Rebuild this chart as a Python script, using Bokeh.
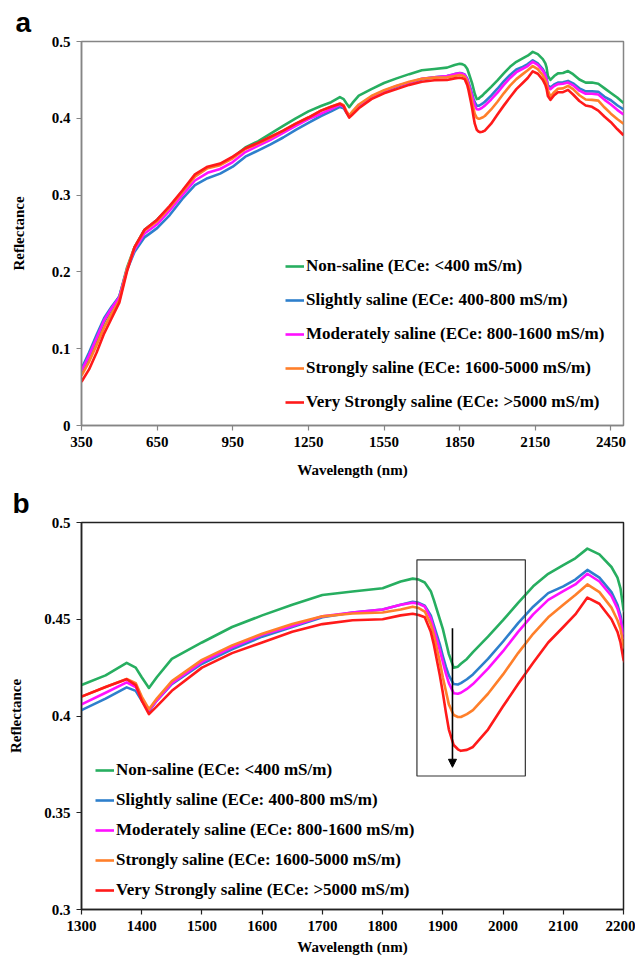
from bokeh.plotting import figure
from bokeh.layouts import column
from bokeh.models import (Legend, LegendItem, FixedTicker, BoxAnnotation, Arrow,
                          NormalHead, Range1d, Title)
from bokeh.embed import file_html
from bokeh.resources import INLINE

# ---------------- data ----------------
wavelength = [350, 380, 410, 440, 470, 500, 530, 560, 600, 650, 700, 750, 800, 850, 900,
              950, 1000, 1050, 1100, 1150, 1200, 1250, 1300, 1340, 1375, 1390, 1400, 1412,
              1425, 1450, 1500, 1550, 1600, 1650, 1700, 1750, 1800, 1830, 1850, 1860, 1870,
              1880, 1885, 1895, 1900, 1905, 1910, 1918, 1925, 1930, 1940, 1950, 1975, 2000,
              2025, 2050, 2075, 2100, 2120, 2140, 2160, 2180, 2190, 2195, 2200, 2210, 2225,
              2240, 2260, 2280, 2300, 2325, 2350, 2375, 2400, 2425, 2450, 2475, 2500]

non_saline = [0.068, 0.085, 0.110, 0.135, 0.152, 0.168, 0.205, 0.232, 0.255, 0.268, 0.285,
              0.305, 0.325, 0.336, 0.340, 0.349, 0.362, 0.370, 0.380, 0.390, 0.400, 0.409,
              0.416, 0.421, 0.4275, 0.425, 0.420, 0.4145, 0.420, 0.4295, 0.438, 0.446, 0.452,
              0.4575, 0.4625, 0.4643, 0.466, 0.4695, 0.471, 0.4705, 0.469, 0.4645, 0.460,
              0.450, 0.445, 0.4385, 0.432, 0.425, 0.4255, 0.427, 0.4295, 0.433, 0.441,
              0.4495, 0.4585, 0.467, 0.4735, 0.478, 0.4815, 0.4865, 0.4835, 0.477, 0.4715,
              0.466, 0.455, 0.450, 0.455, 0.4585, 0.459, 0.4615, 0.4575, 0.4505, 0.4465,
              0.4465, 0.445, 0.439, 0.433, 0.427, 0.420]

slightly = [0.074, 0.095, 0.118, 0.140, 0.155, 0.168, 0.202, 0.226, 0.245, 0.257, 0.274,
            0.295, 0.313, 0.322, 0.328, 0.337, 0.350, 0.358, 0.366, 0.375, 0.385, 0.394,
            0.403, 0.409, 0.4148, 0.413, 0.408, 0.4025, 0.408, 0.4165, 0.427, 0.4345, 0.441,
            0.446, 0.451, 0.4535, 0.455, 0.4575, 0.459, 0.4585, 0.457, 0.452, 0.447, 0.437,
            0.431, 0.4255, 0.421, 0.4165, 0.4163, 0.417, 0.419, 0.4215, 0.4295, 0.4385,
            0.448, 0.4565, 0.4635, 0.467, 0.4705, 0.4755, 0.4715, 0.464, 0.4575, 0.452,
            0.443, 0.440, 0.444, 0.4465, 0.447, 0.4487, 0.4455, 0.439, 0.435, 0.435, 0.4345,
            0.428, 0.4235, 0.417, 0.4115]

moderately = [0.071, 0.091, 0.114, 0.137, 0.153, 0.167, 0.203, 0.229, 0.250, 0.262, 0.280,
              0.300, 0.319, 0.329, 0.334, 0.343, 0.356, 0.364, 0.372, 0.381, 0.390, 0.399,
              0.406, 0.412, 0.4174, 0.415, 0.409, 0.4030, 0.408, 0.417, 0.428, 0.4355, 0.442,
              0.4465, 0.4515, 0.4535, 0.455, 0.4575, 0.4585, 0.458, 0.4565, 0.4505, 0.445,
              0.434, 0.428, 0.422, 0.417, 0.4118, 0.4115, 0.412, 0.414, 0.4165, 0.4245,
              0.4335, 0.4435, 0.4525, 0.460, 0.4645, 0.468, 0.4735, 0.4695, 0.462, 0.4555,
              0.450, 0.4405, 0.438, 0.442, 0.4445, 0.445, 0.4465, 0.443, 0.436, 0.432, 0.432,
              0.431, 0.424, 0.418, 0.411, 0.405]

strongly = [0.065, 0.083, 0.105, 0.128, 0.146, 0.163, 0.203, 0.232, 0.254, 0.266, 0.284,
            0.304, 0.324, 0.335, 0.339, 0.348, 0.360, 0.367, 0.375, 0.384, 0.393, 0.401,
            0.410, 0.415, 0.4192, 0.417, 0.410, 0.4035, 0.409, 0.418, 0.429, 0.4365, 0.4425,
            0.4475, 0.4515, 0.453, 0.4535, 0.455, 0.4565, 0.4558, 0.454, 0.4475, 0.442,
            0.428, 0.420, 0.413, 0.406, 0.4005, 0.3995, 0.3995, 0.401, 0.403, 0.4115,
            0.4215, 0.4325, 0.4425, 0.451, 0.4575, 0.4625, 0.468, 0.464, 0.456, 0.4495,
            0.445, 0.4365, 0.428, 0.434, 0.4385, 0.439, 0.4423, 0.438, 0.430, 0.4245, 0.424,
            0.423, 0.414, 0.406, 0.399, 0.393]

very_strongly = [0.057, 0.073, 0.095, 0.120, 0.140, 0.160, 0.200, 0.232, 0.255, 0.268, 0.286,
                 0.306, 0.327, 0.337, 0.341, 0.350, 0.361, 0.368, 0.376, 0.384, 0.393, 0.401,
                 0.410, 0.415, 0.419, 0.416, 0.408, 0.401, 0.405, 0.413, 0.425, 0.4325, 0.438,
                 0.4435, 0.4475, 0.4495, 0.450, 0.452, 0.4528, 0.4522, 0.451, 0.4435, 0.437,
                 0.421, 0.412, 0.402, 0.393, 0.385, 0.3828, 0.382, 0.3825, 0.384, 0.393,
                 0.405, 0.4165, 0.4275, 0.438, 0.446, 0.4525, 0.4612, 0.458, 0.450, 0.4435,
                 0.438, 0.429, 0.424, 0.430, 0.434, 0.434, 0.437, 0.431, 0.4225, 0.4167, 0.415,
                 0.410, 0.402, 0.395, 0.386, 0.378]

series_labels = ["Non-saline (ECe: <400 mS/m)",
                 "Slightly saline (ECe: 400-800 mS/m)",
                 "Moderately saline (ECe: 800-1600 mS/m)",
                 "Strongly saline (ECe: 1600-5000 mS/m)",
                 "Very Strongly saline (ECe: >5000 mS/m)"]
series_values = [non_saline, slightly, moderately, strongly, very_strongly]
series_colors = ["#27ae60", "#2e7fcc", "#ff10ff", "#ff7f2a", "#ff1a1a"]

xticks_a = [350, 650, 950, 1250, 1550, 1850, 2150, 2450]
yticks_a = [0, 0.1, 0.2, 0.3, 0.4, 0.5]
ylabels_a = ["0", "0.1", "0.2", "0.3", "0.4", "0.5"]
xticks_b = [1300, 1400, 1500, 1600, 1700, 1800, 1900, 2000, 2100, 2200]
yticks_b = [0.3, 0.35, 0.4, 0.45, 0.5]
ylabels_b = ["0.3", "0.35", "0.4", "0.45", "0.5"]

# highlight box and arrow in panel b (data units)
box_left, box_right, box_bottom, box_top = 1857, 2037, 0.369, 0.4807
arrow_x, arrow_y0, arrow_y1 = 1916, 0.4454, 0.3735

SERIF = "Liberation Serif"


def style_axes(p, axis_color, xticks, yticks, ylabels, xstand, ystand):
    p.xaxis.ticker = FixedTicker(ticks=xticks)
    p.yaxis.ticker = FixedTicker(ticks=yticks)
    p.yaxis.major_label_overrides = {t: l for t, l in zip(yticks, ylabels)}
    for ax in (p.xaxis, p.yaxis):
        ax.axis_line_color = axis_color
        ax.axis_line_width = 1.5
        ax.major_tick_line_color = axis_color
        ax.major_tick_line_width = 1.2
        ax.major_tick_out = 5
        ax.major_tick_in = 0
        ax.minor_tick_line_color = None
        ax.major_label_standoff = 6
        ax.major_label_text_font = SERIF
        ax.major_label_text_font_style = "bold"
        ax.major_label_text_font_size = "15px"
        ax.major_label_text_color = "black"
        ax.axis_label_text_font = SERIF
        ax.axis_label_text_font_style = "bold"
        ax.axis_label_text_font_size = "15px"
        ax.axis_label_text_color = "black"
    p.xaxis.axis_label = "Wavelength (nm)"
    p.yaxis.axis_label = "Reflectance"
    p.xaxis.axis_label_standoff = xstand
    p.yaxis.axis_label_standoff = ystand
    p.xgrid.visible = False
    p.ygrid.visible = False
    p.outline_line_color = axis_color
    p.outline_line_width = 1.5


def add_lines_and_legend(p, loc, spacing):
    items = []
    for lab, vals, col in zip(series_labels, series_values, series_colors):
        r = p.line(wavelength, vals, line_color=col, line_width=2.6, line_join="round")
        items.append(LegendItem(label=lab, renderers=[r]))
    leg = Legend(items=items, location=loc, padding=0, margin=0, spacing=spacing,
                 glyph_width=19, glyph_height=20, label_height=20, label_standoff=2,
                 border_line_color=None, background_fill_alpha=0,
                 label_text_font=SERIF, label_text_font_style="bold",
                 label_text_font_size="17px", label_text_color="black")
    p.add_layout(leg, "center")


def panel_title(letter, offset):
    return Title(text=letter, align="left", offset=offset, standoff=7,
                 text_font="Liberation Sans", text_font_style="bold",
                 text_font_size="28px", text_color="black")


# ---------------- panel a ----------------
pa = figure(width=635, height=480, output_backend="svg", toolbar_location=None,
            x_range=Range1d(350, 2500), y_range=Range1d(0, 0.5),
            min_border_left=78, min_border_right=12, min_border_top=41, min_border_bottom=49)
pa.title = panel_title("a", -66)
style_axes(pa, "#858585", xticks_a, yticks_a, ylabels_a, 12, 22)
add_lines_and_legend(pa, (204, 13), 14)

# ---------------- panel b ----------------
pb = figure(width=635, height=480, output_backend="svg", toolbar_location=None,
            x_range=Range1d(1300, 2200), y_range=Range1d(0.3, 0.5),
            min_border_left=81, min_border_right=11, min_border_top=42, min_border_bottom=51)
pb.title = panel_title("b", -69)
style_axes(pb, "#222222", xticks_b, yticks_b, ylabels_b, 5, 17)
add_lines_and_legend(pb, (14, 9), 10)
pb.add_layout(BoxAnnotation(left=box_left, right=box_right, bottom=box_bottom, top=box_top,
                            fill_alpha=0, line_color="#333333", line_alpha=1.0,
                            line_width=1.2))
pb.add_layout(Arrow(end=NormalHead(size=8, fill_color="black", line_color="black"),
                    x_start=arrow_x, y_start=arrow_y0, x_end=arrow_x, y_end=arrow_y1,
                    line_color="black", line_width=1.6))

layout = column(pa, pb, spacing=0)
open("out.html", "w").write(file_html(layout, INLINE))
